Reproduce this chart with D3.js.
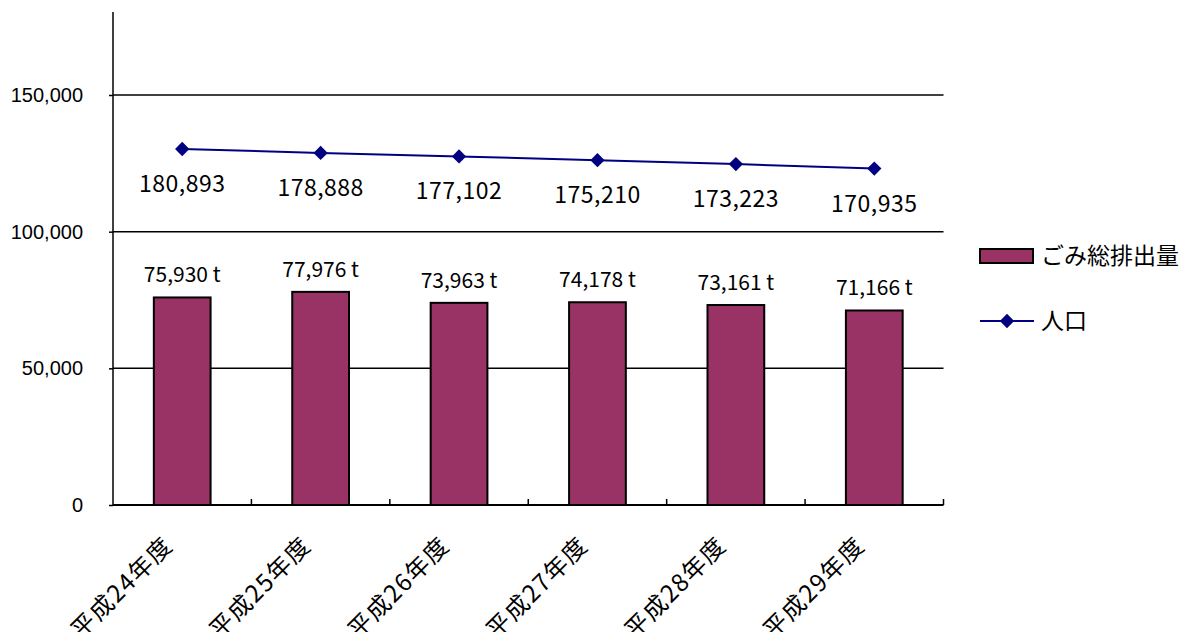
<!DOCTYPE html>
<html>
<head>
<meta charset="utf-8">
<script src="https://cdn.jsdelivr.net/npm/d3@7/dist/d3.min.js"></script>
<style>
  body { margin: 0; background: #fff; }
  svg { display: block; }
</style>
</head>
<body>
<svg width="1184" height="632"></svg>
<script>
const categories = ["平成24年度", "平成25年度", "平成26年度", "平成27年度", "平成28年度", "平成29年度"];
const garbage = [75930, 77976, 73963, 74178, 73161, 71166];
const population = [180893, 178888, 177102, 175210, 173223, 170935];
const yTicks = [0, 50000, 100000, 150000];

const svg = d3.select("svg");
const jp = "'Noto Sans CJK JP', sans-serif";

const x = d3.scaleBand()
  .domain(categories)
  .range([113, 943.5]);

const y = d3.scaleLinear()
  .domain([0, 180000])
  .range([505, 13]);

// population is plotted on a hidden secondary axis
const y2 = d3.scaleLinear()
  .domain([0, 250000])
  .range([505, 13]);

const fmt = d3.format(",");

// gridlines
svg.append("g")
  .selectAll("line")
  .data(yTicks.filter(d => d > 0))
  .enter()
  .append("line")
  .attr("x1", 113)
  .attr("x2", 943.5)
  .attr("y1", d => y(d))
  .attr("y2", d => y(d))
  .attr("stroke", "#000")
  .attr("stroke-width", 1.5);

// y axis
const yAxis = svg.append("g")
  .attr("transform", "translate(113,0)")
  .call(d3.axisLeft(y).tickValues(yTicks).tickSize(4).tickFormat(fmt));
yAxis.select(".domain").attr("stroke-width", 1.5).attr("d", "M0,12V505");
yAxis.selectAll(".tick line").attr("stroke-width", 1.5);
yAxis.selectAll("text")
  .attr("x", -30)
  .attr("font-family", "'Liberation Sans', Arial, sans-serif")
  .attr("font-size", 20)
  .attr("fill", "#000");

// bars
const barW = x.bandwidth() * 0.41;
svg.append("g")
  .selectAll("rect")
  .data(garbage)
  .enter()
  .append("rect")
  .attr("x", (d, i) => x(categories[i]) + x.bandwidth() / 2 - barW / 2)
  .attr("y", d => y(d))
  .attr("width", barW)
  .attr("height", d => y(0) - y(d))
  .attr("fill", "#993366")
  .attr("stroke", "#000")
  .attr("stroke-width", 2);

// x axis
const xAxis = svg.append("g")
  .attr("transform", "translate(0,505)");
xAxis.append("line")
  .attr("x1", 113).attr("x2", 943.5)
  .attr("stroke", "#000").attr("stroke-width", 2);
xAxis.selectAll(".xt")
  .data(categories)
  .enter()
  .append("line")
  .attr("class", "xt")
  .attr("x1", d => x(d) + x.bandwidth())
  .attr("x2", d => x(d) + x.bandwidth())
  .attr("y1", 0).attr("y2", -6)
  .attr("stroke", "#000").attr("stroke-width", 1.5);

svg.append("g")
  .selectAll("text")
  .data(categories)
  .enter()
  .append("text")
  .attr("transform", d => `translate(${x(d) + x.bandwidth() / 2 - 8},547) rotate(-45)`)
  .attr("text-anchor", "end")
  .attr("font-family", jp)
  .attr("font-size", 24)
  .attr("letter-spacing", 1.5)
  .text(d => d);

// bar labels
svg.append("g")
  .selectAll("text")
  .data(garbage)
  .enter()
  .append("text")
  .attr("x", (d, i) => x(categories[i]) + x.bandwidth() / 2)
  .attr("y", d => y(d) - 15)
  .attr("text-anchor", "middle")
  .attr("font-family", jp)
  .attr("font-size", 21)
  .text(d => fmt(d) + " t");

// population line
const line = d3.line()
  .x((d, i) => x(categories[i]) + x.bandwidth() / 2)
  .y(d => y2(d));

svg.append("path")
  .datum(population)
  .attr("d", line)
  .attr("fill", "none")
  .attr("stroke", "#000080")
  .attr("stroke-width", 2);

const diamond = d3.symbol().type(d3.symbolDiamond2).size(130);
svg.append("g")
  .selectAll("path")
  .data(population)
  .enter()
  .append("path")
  .attr("d", diamond)
  .attr("transform", (d, i) => `translate(${x(categories[i]) + x.bandwidth() / 2},${y2(d)})`)
  .attr("fill", "#000080");

svg.append("g")
  .selectAll("text")
  .data(population)
  .enter()
  .append("text")
  .attr("x", (d, i) => x(categories[i]) + x.bandwidth() / 2)
  .attr("y", d => y2(d) + 43)
  .attr("text-anchor", "middle")
  .attr("font-family", jp)
  .attr("font-size", 23)
  .attr("letter-spacing", 0.5)
  .text(d => fmt(d));

// legend
const legend = svg.append("g").attr("font-family", jp).attr("font-size", 23);
legend.append("rect")
  .attr("x", 980).attr("y", 249)
  .attr("width", 53).attr("height", 14)
  .attr("fill", "#993366").attr("stroke", "#000").attr("stroke-width", 2);
legend.append("text")
  .attr("x", 1041).attr("y", 264)
  .text("ごみ総排出量");
legend.append("line")
  .attr("x1", 980).attr("x2", 1034)
  .attr("y1", 321).attr("y2", 321)
  .attr("stroke", "#000080").attr("stroke-width", 2);
legend.append("path")
  .attr("d", diamond)
  .attr("transform", "translate(1007,321)")
  .attr("fill", "#000080");
legend.append("text")
  .attr("x", 1041).attr("y", 329)
  .text("人口");
</script>
</body>
</html>
